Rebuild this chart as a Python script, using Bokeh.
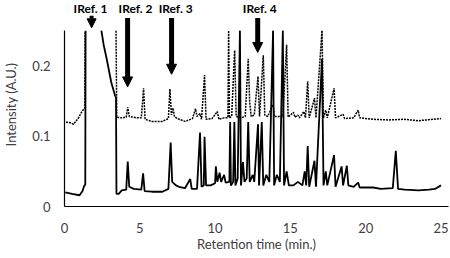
from bokeh.plotting import figure
from bokeh.models import Range1d, Arrow, NormalHead, ColumnDataSource
from bokeh.core.properties import value
from bokeh.embed import file_html
from bokeh.resources import INLINE

nan = float("nan")

# ---- data (0.25 = off-scale, nan = break while off-scale) ----
solid_t = [0.05, 0.5, 1.0, 1.2, 1.3, 1.38, 1.40, 1.41, 2.45, 2.6, 2.8, 3.1, 3.35, 3.42, 3.45, 3.6, 3.8,
           4.1, 4.2, 4.3, 4.6, 5.1, 5.22, 5.32, 5.8, 6.5, 6.9, 7.05, 7.15, 7.4, 7.6, 8.0, 8.35, 8.45,
           8.8, 9.0, 9.1, 9.25, 9.3, 9.4, 9.7, 10.0, 10.05, 10.15, 10.3, 10.4, 10.6, 10.7, 10.95, 11.0,
           11.05, 11.2, 11.28, 11.35, 11.5, 11.65, 11.72, 11.85, 11.95, 12.1, 12.2, 12.3, 12.5, 12.6,
           12.85, 12.92, 13.1, 13.2, 13.4, 13.6, 13.85, 13.92, 14.1, 14.3, 14.5, 14.58, 14.75, 14.9,
           15.2, 15.5, 15.8, 15.95, 16.05, 16.15, 16.25, 16.6, 16.7, 17.1, 17.2, 17.35, 17.45, 17.9,
           18.0, 18.4, 18.5, 18.75, 18.85, 19.2, 19.5, 19.6, 20.5, 21.0, 21.8, 22.0, 22.15, 22.6, 23.5,
           24.2, 24.6, 25.0]
solid_v = [0.020, 0.018, 0.016, 0.022, 0.029, 0.031, 0.25, nan, 0.25, 0.23, 0.21, 0.177, 0.158, 0.155,
           0.018, 0.018, 0.023, 0.024, 0.064, 0.028, 0.025, 0.024, 0.047, 0.022, 0.021, 0.021, 0.025,
           0.091, 0.035, 0.030, 0.028, 0.026, 0.039, 0.025, 0.025, 0.105, 0.028, 0.030, 0.099, 0.030,
           0.030, 0.033, 0.057, 0.035, 0.048, 0.035, 0.045, 0.034, 0.035, 0.120, 0.030, 0.035, 0.120,
           0.030, 0.040, 0.25, 0.030, 0.063, 0.035, 0.040, 0.120, 0.035, 0.045, 0.035, 0.117, 0.030,
           0.120, 0.030, 0.045, 0.035, 0.25, 0.030, 0.045, 0.035, 0.25, 0.030, 0.050, 0.030, 0.030,
           0.035, 0.030, 0.050, 0.030, 0.086, 0.028, 0.065, 0.028, 0.210, 0.030, 0.050, 0.030, 0.073,
           0.028, 0.057, 0.030, 0.058, 0.030, 0.028, 0.034, 0.027, 0.027, 0.025, 0.026, 0.079, 0.025,
           0.024, 0.023, 0.024, 0.025, 0.030]

dotted_t = [0.1, 0.4, 0.6, 0.9, 1.1, 1.3, 1.35, 1.37, 1.38, 3.42, 3.47, 3.8, 4.1, 4.2, 4.3, 4.8, 5.1,
            5.25, 5.35, 5.8, 6.5, 6.9, 7.0, 7.1, 7.2, 7.3, 7.5, 8.0, 8.5, 8.7, 8.8, 9.0, 9.1, 9.3, 9.4,
            9.8, 10.15, 10.25, 10.6, 10.85, 10.9, 10.95, 11.1, 11.3, 11.4, 11.7, 12.0, 12.2, 12.3, 12.4,
            12.6, 12.85, 12.95, 13.2, 13.3, 13.5, 13.85, 13.95, 14.2, 14.5, 14.75, 14.85, 15.2, 15.3,
            15.5, 15.6, 15.9, 16.0, 16.15, 16.25, 16.6, 16.7, 17.1, 17.2, 17.35, 17.45, 17.9, 18.0,
            18.5, 18.6, 19.2, 19.5, 19.6, 20.5, 21.5, 22.5, 23.5, 24.5, 25.0]
dotted_v = [0.120, 0.119, 0.117, 0.125, 0.133, 0.139, 0.140, 0.25, nan, 0.25, 0.127, 0.126, 0.127,
            0.141, 0.128, 0.126, 0.126, 0.168, 0.124, 0.121, 0.121, 0.125, 0.167, 0.130, 0.140, 0.128,
            0.125, 0.121, 0.125, 0.139, 0.128, 0.132, 0.124, 0.187, 0.124, 0.125, 0.135, 0.124, 0.126,
            0.126, 0.25, 0.126, 0.128, 0.222, 0.128, 0.126, 0.128, 0.210, 0.147, 0.128, 0.130, 0.185,
            0.128, 0.215, 0.130, 0.128, 0.145, 0.128, 0.128, 0.128, 0.230, 0.127, 0.134, 0.127, 0.130,
            0.126, 0.135, 0.126, 0.178, 0.126, 0.154, 0.126, 0.25, 0.126, 0.137, 0.126, 0.168, 0.126,
            0.131, 0.125, 0.126, 0.137, 0.126, 0.124, 0.123, 0.124, 0.122, 0.124, 0.125]

x_ticks = [0, 5, 10, 15, 20, 25]
y_ticks = [0, 0.1, 0.2]
y_tick_labels = ["0", "0.1", "0.2"]

ref_names = ["IRef. 1", "IRef. 2", "IRef. 3", "IRef. 4"]
ref_times = [1.8, 4.19, 7.11, 12.83]

# ---- figure ----
p = figure(frame_width=384, frame_height=204, output_backend="svg", toolbar_location=None,
           x_range=Range1d(0, 25.5), y_range=Range1d(0, 0.29),
           min_border_left=55, min_border_right=1, min_border_top=2, min_border_bottom=0)
p.outline_line_color = None
p.grid.visible = False
p.background_fill_color = "white"

p.line(solid_t, solid_v, line_color="black", line_width=1.8)
p.line(dotted_t, dotted_v, line_color="black", line_width=1.5, line_dash="2 1")

p.xaxis.ticker = x_ticks
p.yaxis.ticker = y_ticks
p.yaxis.bounds = (0, 0.25)
p.yaxis.major_label_overrides = {t: s for t, s in zip(y_ticks, y_tick_labels)}
for ax in (p.xaxis[0], p.yaxis[0]):
    ax.major_tick_line_color = None
    ax.minor_tick_line_color = None
    ax.major_tick_out = 0
    ax.major_tick_in = 0
    ax.axis_line_color = "black"
    ax.axis_line_width = 1.2
    ax.major_label_text_font = "Lato"
    ax.major_label_text_font_size = "13px"
    ax.major_label_text_color = "#404040"
    ax.axis_label_text_font = "Lato"
    ax.axis_label_text_font_size = "13px"
    ax.axis_label_text_font_style = "normal"
    ax.axis_label_text_color = "#404040"
p.xaxis.axis_label = "Retention time (min.)"
p.yaxis.axis_label = "Intensity (A.U.)"
p.xaxis.major_label_standoff = 16
p.xaxis.axis_label_standoff = 0
p.yaxis.major_label_standoff = 14
p.yaxis.axis_label_standoff = 10

# reference arrows
arrow_specs = [(0.271, 0.254, 4, 9), (0.268, 0.170, 5, 10), (0.268, 0.188, 5, 10), (0.268, 0.219, 5, 10)]
for t, (ys, ye, w, hs) in zip(ref_times, arrow_specs):
    p.add_layout(Arrow(x_start=t, y_start=ys, x_end=t, y_end=ye, line_width=w, line_color="black",
                       end=NormalHead(size=hs, fill_color="black", line_color="black")))

label_offsets = [-0.07, 0.53, 0.27, 0.14]
lab_src = ColumnDataSource(dict(x=[t + o for t, o in zip(ref_times, label_offsets)],
                                y=[0.281] * len(ref_names), text=ref_names))
p.text(x="x", y="y", text="text", source=lab_src, text_align="center", text_baseline="middle",
       text_font=value("Lato"), text_font_style="bold", text_font_size="12px", text_color="black")

open("out.html", "w").write(file_html(p, INLINE))
